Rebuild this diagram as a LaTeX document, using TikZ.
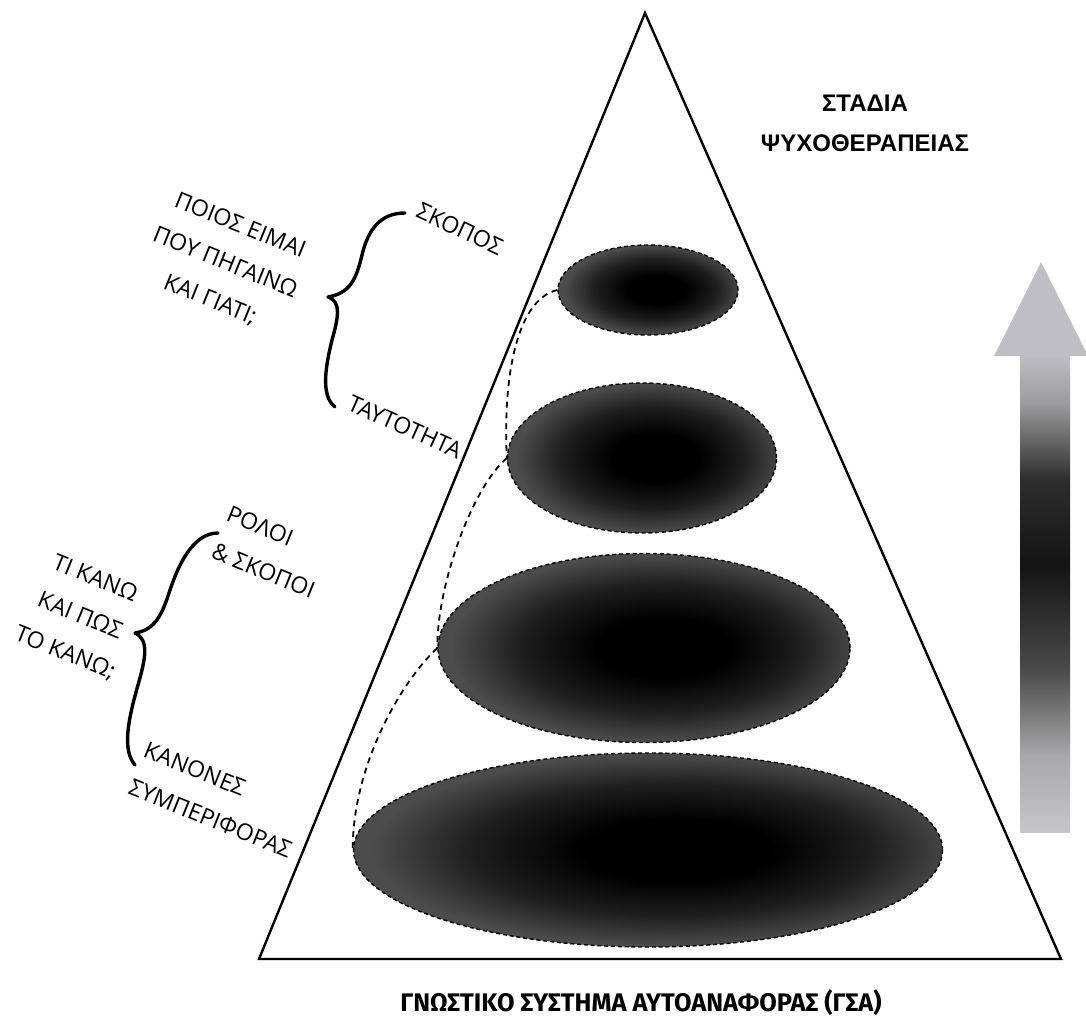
\documentclass[tikz,border=0pt]{standalone}
\usepackage{fontspec}
\usetikzlibrary{shapes.geometric}
\newfontfamily\labfont{Open Sans}
\newfontfamily\ttlfont{Liberation Sans}
\newfontfamily\btmfont{Fira Sans}
\definecolor{ellA}{gray}{0.0}
\definecolor{ellB}{gray}{0.12}
\definecolor{ellC}{gray}{0.30}
\definecolor{arrlight}{HTML}{BEBEC4}
\definecolor{arrA}{HTML}{C6C6CA}
\definecolor{arrB}{HTML}{A8A8AA}
\definecolor{arrC}{HTML}{4A4A4A}
\definecolor{arrD}{HTML}{141414}
\definecolor{arrE}{HTML}{2E2E2E}
\definecolor{arrF}{HTML}{9C9C9E}
\pgfdeclareradialshading{ellshade}{\pgfpoint{3bp}{0bp}}{color(0bp)=(ellA); color(8bp)=(ellA); color(17bp)=(ellB); color(25bp)=(ellC); color(50bp)=(ellC)}
\pgfdeclareverticalshading{arrshade}{100bp}{color(0bp)=(arrA); color(25bp)=(arrA); color(33bp)=(arrB); color(42bp)=(arrC); color(53bp)=(arrD); color(62bp)=(arrE); color(70bp)=(arrF); color(75bp)=(arrlight); color(100bp)=(arrlight)}
\begin{document}
\begin{tikzpicture}[x=0.5pt,y=-0.5pt,
  ell/.style={ellipse, inner sep=0pt, draw=black, line width=0.7pt, dash pattern=on 2pt off 1.4pt, shading=ellshade},
  link/.style={line width=0.9pt, dash pattern=on 3pt off 2.4pt},
  bracestroke/.style={line width=1.7pt, line cap=round, line join=round},
  lab/.style={font=\labfont\fontsize{11.5}{20}\selectfont, inner sep=0pt},
]
\useasboundingbox (0,0) rectangle (1086,1028);
\fill[white] (0,0) rectangle (1086,1028);

% triangle
\coordinate (apex) at (645,13);
\coordinate (bl) at (259,959);
\coordinate (br) at (1061,959);
\draw[line width=1.2pt, line join=miter] (apex) -- (br) -- (bl) -- cycle;

% ellipses
\node[ell, minimum width=90pt, minimum height=45pt] (e1) at (648,290) {};
\node[ell, minimum width=134.5pt, minimum height=75pt] (e2) at (642,458) {};
\node[ell, minimum width=206pt, minimum height=94.5pt] (e3) at (644,648) {};
\node[ell, minimum width=294.5pt, minimum height=97pt] (e4) at (648,850) {};

% dashed connectors
\draw[link] (e1.west) .. controls (515,300) and (503,382) .. (e2.west);
\draw[link] (e2.west) .. controls (472,488) and (437,585) .. (e3.west);
\draw[link] (e3.west) .. controls (398,685) and (352,770) .. (e4.west);

% braces
\draw[bracestroke] (405,213) .. controls (380,213) and (368,230) .. (362,255)
  .. controls (356,280) and (350,293) .. (328,297)
  .. controls (342,302) and (338,318) .. (332,340)
  .. controls (326,365) and (320,395) .. (335,407);
\draw[bracestroke] (218,533) .. controls (195,533) and (180,560) .. (170,590)
  .. controls (162,615) and (155,630) .. (135,633)
  .. controls (150,640) and (145,660) .. (138,685)
  .. controls (128,720) and (122,750) .. (135,765);

% labels
\node[lab, rotate=-25] (skopos) at (460,229) {ΣΚΟΠΟΣ};
\node[lab, rotate=-24] (taut) at (405,427) {ΤΑΥΤΟΤΗΤΑ};
\node[lab, rotate=-22, align=center] (q1) at (225,263) {ΠΟΙΟΣ ΕΙΜΑΙ\\ΠΟΥ ΠΗΓΑΙΝΩ\\ΚΑΙ ΓΙΑΤΙ;};
\node[lab, rotate=-22, align=left] (roles) at (271,552) {ΡΟΛΟΙ\\\&\ ΣΚΟΠΟΙ};
\node[lab, rotate=-22, align=center] (q2) at (80,616) {ΤΙ ΚΑΝΩ\\ΚΑΙ ΠΩΣ\\ΤΟ ΚΑΝΩ;};
\node[lab, rotate=-22, align=left] (rules) at (218,800) {ΚΑΝΟΝΕΣ\\ΣΥΜΠΕΡΙΦΟΡΑΣ};

% titles
\node[font=\ttlfont\bfseries\fontsize{12}{20}\selectfont, align=center] (title) at (865,123) {ΣΤΑΔΙΑ\\ΨΥΧΟΘΕΡΑΠΕΙΑΣ};
\node[font=\btmfont\bfseries\fontsize{12.7}{15}\selectfont] (gsa) at (641,1003) {ΓΝΩΣΤΙΚΟ ΣΥΣΤΗΜΑ ΑΥΤΟΑΝΑΦΟΡΑΣ (ΓΣΑ)};

% progress arrow
\fill[arrlight] (1041,262) -- (1088,356) -- (994,356) -- cycle;
\shade[shading=arrshade] (1020,355) rectangle (1070,832);
\end{tikzpicture}
\end{document}
